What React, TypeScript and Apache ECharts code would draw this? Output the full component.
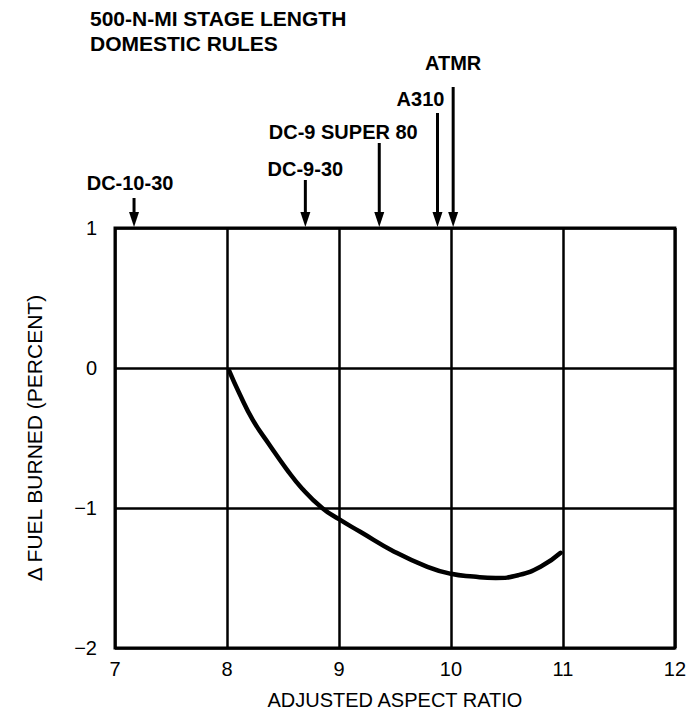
import React, { useEffect, useRef } from "react";
import * as echarts from "echarts";

const titleLines = ["500-N-MI STAGE LENGTH", "DOMESTIC RULES"];
const xAxisName = "ADJUSTED ASPECT RATIO";
const yAxisName = "\u0394 FUEL BURNED (PERCENT)";

const aspectRatio = [8.02, 8.11, 8.23, 8.38, 8.53, 8.67, 8.85, 9.0, 9.19, 9.49, 9.79, 10.0, 10.2, 10.4, 10.6, 10.8, 10.98];
const fuelBurned = [-0.02, -0.18, -0.37, -0.55, -0.72, -0.86, -1.0, -1.08, -1.17, -1.31, -1.42, -1.47, -1.49, -1.5, -1.48, -1.42, -1.32];

const aircraftNames = ["DC-10-30", "DC-9-30", "DC-9 SUPER 80", "A310", "ATMR"];
const aircraftRatio = [7.17, 8.7, 9.36, 9.88, 10.02];

// presentation only: arrow length (px) and label placement
const arrowLength = [30, 48, 85, 115, 141];
const labelRise = [45, 59, 96, 129, 165];
const labelShift = [-4, 0, -36, -17, 0];

const FONT = "'Liberation Sans Narrow', 'Liberation Sans', Arial, sans-serif";

export default function App() {
  const ref = useRef<HTMLDivElement>(null);
  useEffect(() => {
    const chart = echarts.init(ref.current!, null, { renderer: "svg" });
    const curve = aspectRatio.map((x, i) => [x, fuelBurned[i]]);
    chart.setOption({
      animation: false,
      backgroundColor: "#fff",
      textStyle: { fontFamily: FONT, color: "#000" },
      grid: {
        left: 115,
        right: 9,
        top: 228,
        bottom: 75,
        show: true,
        borderColor: "#000",
        borderWidth: 3,
      },
      graphic: [
        {
          type: "text",
          left: 90,
          top: 6,
          style: {
            text: titleLines.join("\n"),
            fontFamily: FONT,
            fontWeight: "bold",
            fontSize: 21,
            lineHeight: 25,
            fill: "#000",
          },
        },
      ],
      xAxis: {
        type: "value",
        min: 7,
        max: 12,
        interval: 1,
        name: xAxisName,
        nameLocation: "middle",
        nameGap: 42,
        nameTextStyle: { fontSize: 20, color: "#000", fontFamily: FONT },
        axisLine: { show: false },
        axisTick: { show: false },
        axisLabel: { fontSize: 20, color: "#000", margin: 11, fontFamily: FONT },
        splitLine: { lineStyle: { color: "#000", width: 2.5 } },
      },
      yAxis: {
        type: "value",
        min: -2,
        max: 1,
        interval: 1,
        name: yAxisName,
        nameLocation: "middle",
        nameGap: 70,
        nameTextStyle: { fontSize: 21, color: "#000", fontFamily: FONT },
        axisLine: { show: false },
        axisTick: { show: false },
        axisLabel: {
          fontSize: 20,
          color: "#000",
          margin: 18,
          fontFamily: FONT,
          formatter: (v: number) => (v < 0 ? "\u2212" + Math.abs(v) : String(v)),
        },
        splitLine: { lineStyle: { color: "#000", width: 2.5 } },
      },
      series: [
        {
          type: "line",
          data: curve,
          smooth: 0.5,
          symbol: "none",
          lineStyle: { color: "#000", width: 4.5, cap: "round" },
        },
        {
          type: "custom",
          clip: false,
          data: aircraftRatio.map((x, i) => [x, 1, i]),
          renderItem: (params: any, api: any) => {
            const i = api.value(2);
            const p = api.coord([api.value(0), api.value(1)]);
            const x = p[0];
            const yb = p[1] - 1;
            const yt = p[1] - arrowLength[i];
            return {
              type: "group",
              children: [
                {
                  type: "line",
                  shape: { x1: x, y1: yt, x2: x, y2: yb - 12 },
                  style: { stroke: "#000", lineWidth: 3 },
                },
                {
                  type: "polygon",
                  shape: { points: [[x - 5, yb - 15], [x + 5, yb - 15], [x, yb]] },
                  style: { fill: "#000" },
                },
                {
                  type: "text",
                  x: x + labelShift[i],
                  y: p[1] - labelRise[i],
                  style: {
                    text: aircraftNames[i],
                    fontFamily: FONT,
                    fontSize: 20,
                    fontWeight: "bold",
                    fill: "#000",
                    align: "center",
                    verticalAlign: "middle",
                  },
                },
              ],
            };
          },
        },
      ],
    });
    return () => chart.dispose();
  }, []);
  return <div ref={ref} style={{ width: 689, height: 723, position: "absolute", left: 0, top: 0 }} />;
}
